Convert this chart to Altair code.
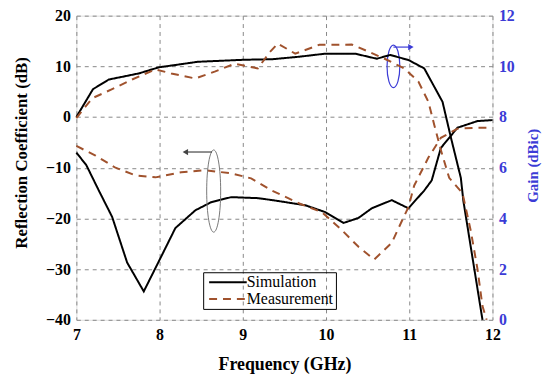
import altair as alt
import pandas as pd

# ---- data ----
sim_s11_f = [7.0, 7.12, 7.27, 7.43, 7.61, 7.81, 7.99, 8.19, 8.43, 8.62, 8.86, 9.18, 9.36, 9.75, 9.99,
             10.21, 10.39, 10.55, 10.79, 10.99, 11.18, 11.27, 11.38, 11.58, 11.82, 12.0]
sim_s11_db = [-7.0, -9.5, -14.5, -19.7, -28.7, -34.4, -28.5, -21.9, -18.4, -16.8, -15.8, -16.0, -16.4, -17.4, -18.75,
              -20.9, -19.9, -18.0, -16.4, -18.0, -14.5, -12.5, -6.1, -2.1, -0.8, -0.6]

meas_s11_f = [7.0, 7.23, 7.47, 7.71, 7.95, 8.26, 8.55, 8.86, 9.1, 9.35, 9.7, 9.95, 10.19, 10.39, 10.58,
              10.79, 10.9, 10.99, 11.06, 11.23, 11.38, 11.58, 11.82, 12.0]
meas_s11_db = [-5.7, -7.6, -10.0, -11.5, -11.9, -10.9, -10.5, -11.1, -12.1, -14.5, -17.2, -18.75, -22.3, -25.6, -28.1,
               -24.8, -20.9, -17.8, -13.5, -8.0, -4.1, -2.3, -2.1, -2.1]

sim_gain_f = [7.0, 7.2, 7.39, 7.75, 7.99, 8.46, 9.02, 9.35, 9.68, 9.99, 10.35, 10.61, 10.77, 10.99,
              11.18, 11.4, 11.5, 11.62, 11.65, 11.88]
sim_gain = [8.0, 9.1, 9.48, 9.72, 9.96, 10.18, 10.26, 10.28, 10.38, 10.5, 10.5, 10.3, 10.45, 10.25,
            9.92, 8.6, 7.2, 5.6, 4.7, 0.0]

meas_gain_f = [7.0, 7.19, 7.43, 7.67, 7.95, 8.14, 8.43, 8.67, 8.9, 9.18, 9.33, 9.42, 9.63, 9.92, 10.1,
               10.31, 10.51, 10.73, 10.94, 11.11, 11.23, 11.3, 11.38, 11.48, 11.64, 11.74, 11.82, 11.88, 11.93]
meas_gain = [7.96, 8.74, 9.1, 9.48, 9.88, 9.72, 9.52, 9.8, 10.1, 9.92, 10.58, 10.9, 10.5, 10.85, 10.85,
             10.86, 10.58, 10.26, 9.92, 9.4, 8.6, 7.7, 6.7, 5.6, 5.0, 3.5, 2.0, 0.54, 0.0]

series_names = ["Simulation", "Measurement"]
series_colors = ["black", "#a0522d"]
x_ticks = [7, 8, 9, 10, 11, 12]
db_ticks = [-40, -30, -20, -10, 0, 10, 20]
gain_ticks = [0, 2, 4, 6, 8, 10, 12]

# annotations (frequency, dB on left scale)
gray_ell_f, gray_ell_db = [8.65], [-14.6]
gray_arrow_f, gray_arrow_f2, gray_arrow_db = [8.31], [8.63], [-6.9]
blue_ell_f, blue_ell_db = [10.81], [10.0]
blue_arrow_f, blue_arrow_f2, blue_arrow_db = [10.81], [11.02], [13.8]

BLUE = "#3b3bd6"
FONT = "Liberation Serif"

s11 = pd.DataFrame({
    "f": sim_s11_f + meas_s11_f,
    "v": sim_s11_db + meas_s11_db,
    "series": ["Simulation"] * len(sim_s11_f) + ["Measurement"] * len(meas_s11_f),
})
gain = pd.DataFrame({
    "f": sim_gain_f + meas_gain_f,
    "v": sim_gain + meas_gain,
    "series": ["Simulation"] * len(sim_gain_f) + ["Measurement"] * len(meas_gain_f),
})

xenc = alt.X("f:Q", scale=alt.Scale(domain=[7, 12], nice=False, zero=False),
             axis=alt.Axis(values=x_ticks, format="d", title="Frequency (GHz)",
                           grid=True, gridDash=[4, 4], gridColor="#888888", gridWidth=1,
                           ticks=False, domain=False, labelPadding=7,
                           labelFont=FONT, labelFontSize=16, labelFontWeight="bold", labelColor="black",
                           titleFont=FONT, titleFontSize=18, titleFontWeight="bold", titleColor="black",
                           titlePadding=13, labelFlush=False))

legend_kw = dict(title=None, orient="none", legendX=128, legendY=259,
                 symbolType="M-3,0L3,0", symbolSize=160, symbolStrokeWidth=2,
                 labelFont=FONT, labelFontSize=16, labelColor="black", labelLimit=300,
                 strokeColor="black", padding=2, rowPadding=1,
                 labelOffset=11, symbolOffset=15)
color = alt.Color("series:N", scale=alt.Scale(domain=series_names, range=series_colors),
                  legend=alt.Legend(**legend_kw))
dash = alt.StrokeDash("series:N", scale=alt.Scale(domain=series_names, range=[[1, 0], [8, 6]]),
                      legend=alt.Legend(**legend_kw))

yleft_scale = alt.Scale(domain=[-40, 20], nice=False, zero=False)
yleft_axis = alt.Axis(values=db_ticks, title="Reflection Coefficient (dB)",
                      grid=True, gridDash=[4, 4], gridColor="#888888", gridWidth=1,
                      ticks=False, domain=False, labelPadding=6,
                      labelFont=FONT, labelFontSize=16, labelFontWeight="bold", labelColor="black",
                      titleFont=FONT, titleFontSize=17, titleFontWeight="bold", titleColor="black",
                      titlePadding=15, titleY=138)

s11_layer = alt.Chart(s11).mark_line(strokeWidth=2).encode(
    x=xenc, y=alt.Y("v:Q", scale=yleft_scale, axis=yleft_axis),
    color=color, strokeDash=dash, order="f:Q")

def ell_path(a):
    k = 0.5523 * a
    return (f"M0,-1 C{k:.4f},-1 {a:.4f},-0.5523 {a:.4f},0 C{a:.4f},0.5523 {k:.4f},1 0,1 "
            f"C{-k:.4f},1 {-a:.4f},0.5523 {-a:.4f},0 C{-a:.4f},-0.5523 {-k:.4f},-1 0,-1 Z")

gray_ell = alt.Chart(pd.DataFrame({"f": gray_ell_f, "v": gray_ell_db})).mark_point(
    shape=ell_path(0.17), size=6889, filled=False, stroke="#777777", strokeWidth=1, opacity=1
).encode(x="f:Q", y=alt.Y("v:Q", scale=yleft_scale))

gray_arrow = alt.Chart(pd.DataFrame({"f": gray_arrow_f, "f2": gray_arrow_f2, "v": gray_arrow_db})).mark_rule(
    stroke="#444444", strokeWidth=1.2).encode(x="f:Q", x2="f2:Q", y=alt.Y("v:Q", scale=yleft_scale))
gray_head = alt.Chart(pd.DataFrame({"f": gray_arrow_f, "v": gray_arrow_db})).mark_point(
    shape="triangle-left", size=40, filled=True, color="#444444", opacity=1
).encode(x="f:Q", y=alt.Y("v:Q", scale=yleft_scale))

blue_ell = alt.Chart(pd.DataFrame({"f": blue_ell_f, "v": blue_ell_db})).mark_point(
    shape=ell_path(0.30), size=1849, filled=False, stroke=BLUE, strokeWidth=1.2, opacity=1
).encode(x="f:Q", y=alt.Y("v:Q", scale=yleft_scale))
blue_arrow = alt.Chart(pd.DataFrame({"f": blue_arrow_f, "f2": blue_arrow_f2, "v": blue_arrow_db})).mark_rule(
    stroke=BLUE, strokeWidth=1.2).encode(x="f:Q", x2="f2:Q", y=alt.Y("v:Q", scale=yleft_scale))
blue_head = alt.Chart(pd.DataFrame({"f": blue_arrow_f2, "v": blue_arrow_db})).mark_point(
    shape="triangle-right", size=40, filled=True, color=BLUE, opacity=1
).encode(x="f:Q", y=alt.Y("v:Q", scale=yleft_scale))

left = alt.layer(s11_layer, gray_ell, gray_arrow, gray_head, blue_ell, blue_arrow, blue_head)

gain_layer = alt.Chart(gain).mark_line(strokeWidth=2).encode(
    x=xenc,
    y=alt.Y("v:Q", scale=alt.Scale(domain=[0, 12], nice=False, zero=False),
            axis=alt.Axis(orient="right", values=gain_ticks, title="Gain (dBic)", grid=False,
                          ticks=False, domain=False, labelPadding=6,
                          labelFont=FONT, labelFontSize=16, labelFontWeight="bold", labelColor=BLUE,
                          titleFont=FONT, titleFontSize=15, titleFontWeight="bold", titleColor=BLUE,
                          titleAngle=270, titleAlign="center", titleY=151, titlePadding=26)),
    color=color, strokeDash=dash, order="f:Q")

chart = alt.layer(left, gain_layer).resolve_scale(y="independent").properties(
    width=420, height=307,
    autosize=alt.AutoSizeParams(type="none"),
    padding={"left": 69, "top": 6, "right": 50, "bottom": 55},
).configure_view(stroke="black", strokeWidth=1.5).configure(
    background="white", font=FONT)

chart.save("out.html", embed_options={"renderer": "svg", "actions": False})
